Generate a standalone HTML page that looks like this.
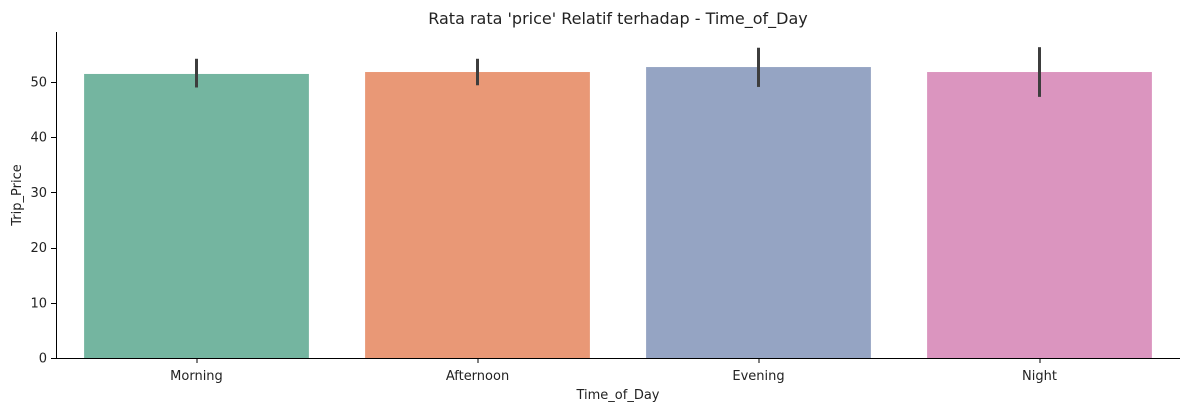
<!DOCTYPE html>
<html><head><meta charset="utf-8"><style>
body{margin:0;background:#fff;font-family:"Liberation Sans","DejaVu Sans",sans-serif;}
svg text{font-family:"DejaVu Sans","Liberation Sans",sans-serif;fill:#222;}
</style></head><body>
<svg id="chart" width="1189" height="412"></svg>
<script>
const categories=["Morning","Afternoon","Evening","Night"];
const means=[51.45,51.8,52.7,51.8];
const ciLow=[49.0,49.4,49.1,47.3];
const ciHigh=[54.2,54.2,56.2,56.3];
const colors=["#74b5a0","#e99876","#95a4c3","#db95bf"];
const yTicks=[0,10,20,30,40,50];
const svg=document.getElementById('chart');
const NS="http://www.w3.org/2000/svg";
const L=56,R=1180,T=32,B=358;
const yMax=59.05;
const band=(R-L)/categories.length;
function x(i){return L+band*(i+0.5);}
function y(v){return B-(v/yMax)*(B-T);}
function mk(tag,attrs,text){const e=document.createElementNS(NS,tag);for(const k in attrs)e.setAttribute(k,attrs[k]);if(text!==undefined)e.textContent=text;svg.appendChild(e);return e;}
categories.forEach((c,i)=>{
  const b=mk('rect',{x:x(i)-band*0.4,y:y(means[i]),width:band*0.8,height:B-y(means[i]),fill:colors[i]});
  
  
  const e=mk('line',{x1:x(i),x2:x(i),y1:y(ciHigh[i]),y2:y(ciLow[i]),stroke:'#3d3d3d','stroke-width':3});
  
  
  mk('line',{x1:x(i)+0.5,x2:x(i)+0.5,y1:B,y2:B+5,stroke:'#000'});
  const t=mk('text',{x:x(i),y:B+22,'text-anchor':'middle','font-size':13},c);
  
  
});
yTicks.forEach(v=>{
  mk('line',{x1:L-5,x2:L,y1:Math.round(y(v))+0.5,y2:Math.round(y(v))+0.5,stroke:'#000'});
  const t=mk('text',{x:L-9,y:y(v)+4.5,'text-anchor':'end','font-size':13},v);
  
  
});
const ya=mk('line',{x1:L+0.5,x2:L+0.5,y1:T,y2:B+0.5,stroke:'#000','stroke-width':1});


const xa=mk('line',{x1:L,x2:R,y1:B+0.5,y2:B+0.5,stroke:'#000','stroke-width':1});


const tt=mk('text',{x:(L+R)/2,y:24,'text-anchor':'middle','font-size':16},"Rata rata 'price' Relatif terhadap - Time_of_Day");


const xt=mk('text',{x:(L+R)/2,y:399,'text-anchor':'middle','font-size':13},"Time_of_Day");


const yt=mk('text',{x:21,y:(T+B)/2,'text-anchor':'middle','font-size':13,transform:'rotate(-90 21 '+((T+B)/2)+')'},"Trip_Price");


</script>
</body></html>
